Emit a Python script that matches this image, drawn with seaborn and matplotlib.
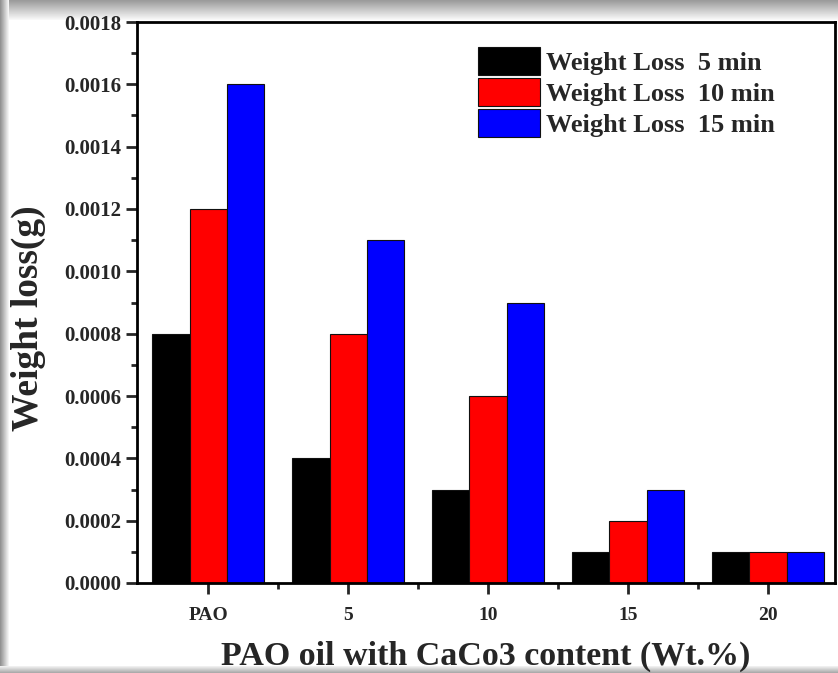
import matplotlib
matplotlib.use("Agg")
import matplotlib.pyplot as plt
import matplotlib.patches as mpatches
from matplotlib.ticker import MultipleLocator, FormatStrFormatter, FixedLocator
import seaborn as sns
import pandas as pd
import numpy as np

categories = ["PAO", "5", "10", "15", "20"]
series_names = ["Weight Loss  5 min", "Weight Loss  10 min", "Weight Loss  15 min"]
loss_5min = [0.0008, 0.0004, 0.0003, 0.0001, 0.0001]
loss_10min = [0.0012, 0.0008, 0.0006, 0.0002, 0.0001]
loss_15min = [0.0016, 0.0011, 0.0009, 0.0003, 0.0001]
colors = ["#000000", "#ff0000", "#0000ff"]

rows = []
for name, vals in zip(series_names, [loss_5min, loss_10min, loss_15min]):
    for c, v in zip(categories, vals):
        rows.append({"cat": c, "series": name, "value": v})
df = pd.DataFrame(rows)

sns.set_style("white")
plt.rcParams["font.family"] = ["Liberation Serif", "DejaVu Serif"]
plt.rcParams["font.weight"] = "bold"

W, H = 838, 673
fig = plt.figure(figsize=(W / 100, H / 100), dpi=100)

# screenshot-like gray shadow frame
def band(x0, y0, w, h, vertical, start, end):
    bax = fig.add_axes([x0 / W, 1 - (y0 + h) / H, w / W, h / H], zorder=-5)
    n = 64
    g = np.linspace(start, end, n)
    img = g[:, None] if vertical else g[None, :]
    bax.imshow(img, cmap="gray", vmin=0, vmax=1, aspect="auto", interpolation="bilinear")
    bax.set_axis_off()

band(0, 0, W, 20, True, 0.6, 0.98)
band(0, 0, 9, H, False, 0.55, 0.98)
band(0, 666, W, 7, True, 0.96, 0.65)

ax = fig.add_axes([137 / W, 1 - 583 / H, (835 - 137) / W, (583 - 22) / H])

sns.barplot(data=df, x="cat", y="value", hue="series", order=categories,
            hue_order=series_names, palette=colors, width=0.8, gap=0,
            edgecolor="#111111", linewidth=0.8, saturation=1, ax=ax, legend=False,
            errorbar=None)

ax.set_xlim(-0.51, 4.48)
ax.set_ylim(0, 0.0018)
ax.yaxis.set_major_locator(MultipleLocator(0.0002))
ax.yaxis.set_minor_locator(MultipleLocator(0.0001))
ax.yaxis.set_major_formatter(FormatStrFormatter("%.4f"))
ax.xaxis.set_minor_locator(FixedLocator([0.5, 1.5, 2.5, 3.5]))

for s in ax.spines.values():
    s.set_linewidth(2)
    s.set_color("black")
ax.tick_params(axis="both", which="major", direction="out", length=8, width=2,
               bottom=True, left=True, top=False, right=False)
ax.tick_params(axis="both", which="minor", direction="out", length=4, width=2,
               bottom=True, left=True, top=False, right=False)
ax.tick_params(axis="y", labelsize=15, pad=3)
ax.tick_params(axis="x", labelsize=14, pad=9)
for lab in ax.get_xticklabels() + ax.get_yticklabels():
    lab.set_fontweight("bold")

ax.set_xlabel("PAO oil with CaCo3 content (Wt.%)", fontsize=24.5, fontweight="bold", labelpad=12)
ax.set_ylabel("Weight loss(g)", fontsize=27, fontweight="bold")
ax.yaxis.set_label_coords(-0.131, 0.472)

handles = [mpatches.Patch(facecolor=c, edgecolor="#111111", linewidth=0.8) for c in colors]
ax.legend(handles, series_names, loc="upper left", bbox_to_anchor=(0.488, 0.955),
          frameon=False, prop={"size": 19, "weight": "bold"},
          handlelength=2.35, handleheight=1.25, labelspacing=0.12, handletextpad=0.25,
          borderaxespad=0, borderpad=0)

fig.savefig("out.png", dpi=100)
